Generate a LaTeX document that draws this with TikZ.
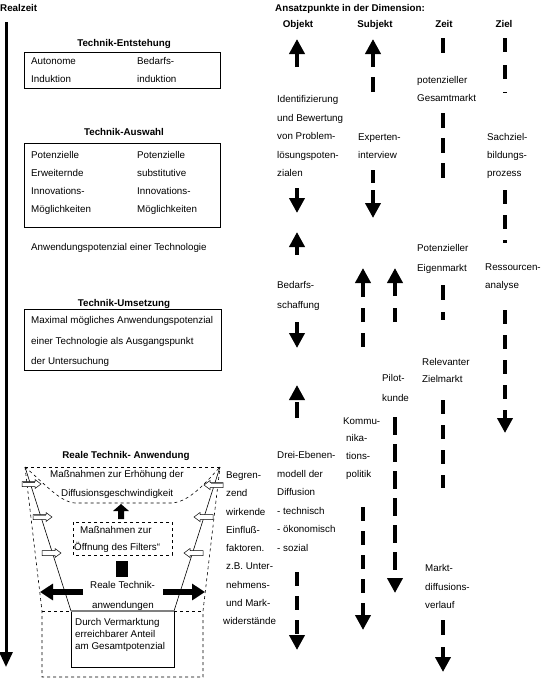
\documentclass[tikz,border=0pt]{standalone}
\usepackage{fontspec}
\setmainfont{Liberation Sans}
\usetikzlibrary{arrows.meta}
\newcommand\tline[4]{\node[txt] (#1) at (#2,#3+3.5) {#4};}
\newcommand\tlines[5]{%
  \foreach \myl [count=\myi] in {#5} {\node[txt] (#1-\myi) at (#2,{#3+3.5+#4*(\myi-1)}) {\myl};}}
\newcommand\blkR[4]{%
  \filldraw[fill=white, draw=black, line width=0.5pt] (#1,#3-2.5) -- (#2-6,#3-2.5) -- (#2-6,#3-4.5) -- (#2,#3) -- (#2-6,#3+4.5) -- (#2-6,#3+2.5) -- (#1,#3+2.5) -- cycle;
  \draw[#4, line width=1.5pt] (#1+0.5,#3-1.7) -- (#2-6.5,#3-1.7);}
\newcommand\blkL[4]{%
  \filldraw[fill=white, draw=black, line width=0.5pt] (#1,#3-2.5) -- (#2+6,#3-2.5) -- (#2+6,#3-4.5) -- (#2,#3) -- (#2+6,#3+4.5) -- (#2+6,#3+2.5) -- (#1,#3+2.5) -- cycle;
  \draw[#4, line width=1.5pt] (#1-0.5,#3-1.7) -- (#2+6.5,#3-1.7);}
\begin{document}
\begin{tikzpicture}[x=1pt,y=-1pt,
  txt/.style={font=\fontsize{9.8}{12}\selectfont, inner sep=0pt, anchor=base west},
  hdr/.style={font=\fontsize{9.8}{12}\selectfont\bfseries, inner sep=0pt, anchor=base},
  colar/.style={line width=4pt, -{Triangle[width=15pt,length=15pt]}},
  colln/.style={line width=4pt},
  thinbox/.style={draw, line width=0.6pt},
  dbox/.style={draw, dashed, line width=0.6pt}]
\useasboundingbox (0,0) rectangle (543,678);

% ---------------- left: real time axis -----------------
\node[hdr, anchor=base west] (realzeit) at (0,11.5) {Realzeit};
\coordinate (rt0) at (6,22);
\coordinate (rt1) at (6,667);
\draw[line width=3pt, -{Triangle[width=13pt,length=15pt]}] (rt0) -- (rt1);

% Technik-Entstehung
\node[hdr] (h1) at (124,46.5) {Technik-Entstehung};
\draw[thinbox] (24,52) rectangle (220,88);
\tlines{ent1}{31}{61}{18}{Autonome,Induktion}
\tlines{ent2}{137}{61}{18}{Bedarfs-,induktion}

% Technik-Auswahl
\node[hdr] (h2) at (124,135.5) {Technik-Auswahl};
\draw[thinbox] (24,143) rectangle (220,227);
\tlines{aus1}{31}{155}{18}{Potenzielle,Erweiternde,Innovations-,Möglichkeiten}
\tlines{aus2}{137}{155}{18}{Potenzielle,substitutive,Innovations-,Möglichkeiten}

\tline{anw}{31}{247}{Anwendungspotenzial einer Technologie}

% Technik-Umsetzung
\node[hdr] (h3) at (124,306.5) {Technik-Umsetzung};
\draw[thinbox] (24,309) rectangle (221,370);
\tlines{ums}{31}{320}{20.5}{Maximal mögliches Anwendungspotenzial,einer Technologie als Ausgangspunkt,der Untersuchung}

% Reale Technik-Anwendung (funnel)
\node[hdr] (h4) at (126,458.5) {Reale Technik- Anwendung};
\draw[dashed, line width=0.6pt] (25,467) -- (220,467);
\draw[dashed, line width=0.6pt] (25,467) .. controls (45,484) and (60,502) .. (75,503) -- (172,503) .. controls (190,502) and (208,480) .. (220,467);
\draw[dashed, line width=0.6pt] (25,467) -- (42,611) -- (42,677) -- (203,677) -- (203,611) -- (220,467);
\draw[dashed, line width=0.6pt] (42,611) -- (203,611);
\draw[line width=0.6pt] (25,467) -- (71,611);
\draw[line width=0.6pt] (220,467) -- (174,611);
\draw[thinbox] (71,611) rectangle (174,667);
\draw[gray, line width=1.2pt] (71,611) -- (174,611);
\tline{m1}{50}{474}{Maßnahmen zur Erhöhung der}
\tline{m2}{61}{493}{Diffusionsgeschwindigkeit}
\fill (113,511) -- (121,504) -- (129,511) -- (124,511) -- (124,519) -- (118,519) -- (118,511) -- cycle;
\draw[dbox] (73,522) rectangle (172,555);
\tline{f1}{80}{530}{Maßnahmen zur}
\tline{f2}{74}{547}{Öffnung des Filters“}
\fill (116,561) rectangle (128,577);
\tline{r1}{90}{585}{Reale Technik-}
\tline{r2}{92}{605}{anwendungen}
\draw[line width=6pt, -{Triangle[width=16pt,length=13pt]}] (83,592) -- (40,592);
\draw[line width=6pt, -{Triangle[width=16pt,length=13pt]}] (163,592) -- (205,592);
\tlines{dv}{75}{622}{12}{Durch Vermarktung,erreichbarer Anteil,am Gesamtpotenzial}
% small block arrows
\blkR{22}{41}{484}{black!75}
\blkR{33}{52}{517}{gray}
\blkR{42}{61}{553}{draw=none}
\blkL{223}{204}{485}{gray}
\blkL{213}{194}{517}{draw=none}
\blkL{203}{184}{553}{draw=none}
\tlines{beg}{226}{475}{18.25}{Begren-,zend,wirkende,Einfluß-,faktoren.,z.B. Unter-,nehmens-,und Mark-}
\tline{wid}{223}{621}{widerstände}

% ---------------- right: dimensions -----------------
\node[hdr, anchor=base west] (ans) at (275,11.5) {Ansatzpunkte in der Dimension:};
\node[hdr] (obj) at (298,27.5) {Objekt};
\node[hdr] (sub) at (375,27.5) {Subjekt};
\node[hdr] (zeit) at (444,27.5) {Zeit};
\node[hdr] (ziel) at (504,27.5) {Ziel};

% Objekt column
\draw[colar] (297,67) -- (297,39);
\tlines{o1}{277}{99}{18.5}{Identifizierung,und Bewertung,von Problem-,lösungspoten-,zialen}
\draw[colar] (297,188) -- (297,213);
\draw[colar] (297,255) -- (297,232);
\tlines{o2}{277}{285}{20}{Bedarfs-,schaffung}
\draw[colar] (297,322) -- (297,348);
\draw[colar, dash pattern=on 16pt off 4pt] (297,418) -- (297,385);
\tlines{o3}{277}{455}{18.6}{Drei-Ebenen-,modell der,Diffusion,- technisch,- ökonomisch,- sozial}
\draw[colar, dash pattern=on 14pt off 10pt] (297,572) -- (297,650);

% Subjekt column
\draw[colar, dash pattern=on 15pt off 10pt] (373,92) -- (373,39);
\tlines{s1}{358}{137}{18}{Experten-,interview}
\draw[colar, dash pattern=on 13pt off 7pt] (373,170) -- (373,218);
\draw[colar, dash pattern=on 14pt off 11pt] (363,347) -- (363,268);
\draw[colar, dash pattern=on 14pt off 12pt] (395,322) -- (395,268);
\tlines{s2}{382}{378}{20}{Pilot-,kunde}
\draw[colar, dash pattern=on 18pt off 9pt] (395,417) -- (395,593);
\tline{s3}{343}{421}{Kommu-}
\tlines{s4}{346}{438}{18}{nika-,tions-,politik}
\draw[colar, dash pattern=on 14pt off 10pt] (363,507) -- (363,630);

% Zeit column
\draw[colln] (443,38) -- (443,53);
\tlines{z1}{417}{80}{18}{potenzieller,Gesamtmarkt}
\draw[colln, dash pattern=on 15pt off 10pt] (443,113) -- (443,178);
\tlines{z2}{417}{248}{20}{Potenzieller,Eigenmarkt}
\draw[colln, dash pattern=on 15pt off 12pt] (443,285) -- (443,320);
\tlines{z3}{422}{362}{16.5}{Relevanter,Zielmarkt}
\draw[colln, dash pattern=on 14pt off 11pt] (443,400) -- (443,488);
\tlines{z4}{425}{568}{18.5}{Markt-,diffusions-,verlauf}
\draw[colar, dash pattern=on 15pt off 12pt] (443,620) -- (443,672);

% Ziel column
\draw[colln, dash pattern=on 14pt off 13pt] (505,38) -- (505,93);
\tlines{y1}{487}{137}{18}{Sachziel-,bildungs-,prozess}
\draw[colln, dash pattern=on 14pt off 11pt] (505,190) -- (505,243);
\tlines{y2}{485}{267}{18}{Ressourcen-,analyse}
\draw[colar, dash pattern=on 14pt off 11pt] (505,310) -- (505,433);
\end{tikzpicture}
\end{document}
